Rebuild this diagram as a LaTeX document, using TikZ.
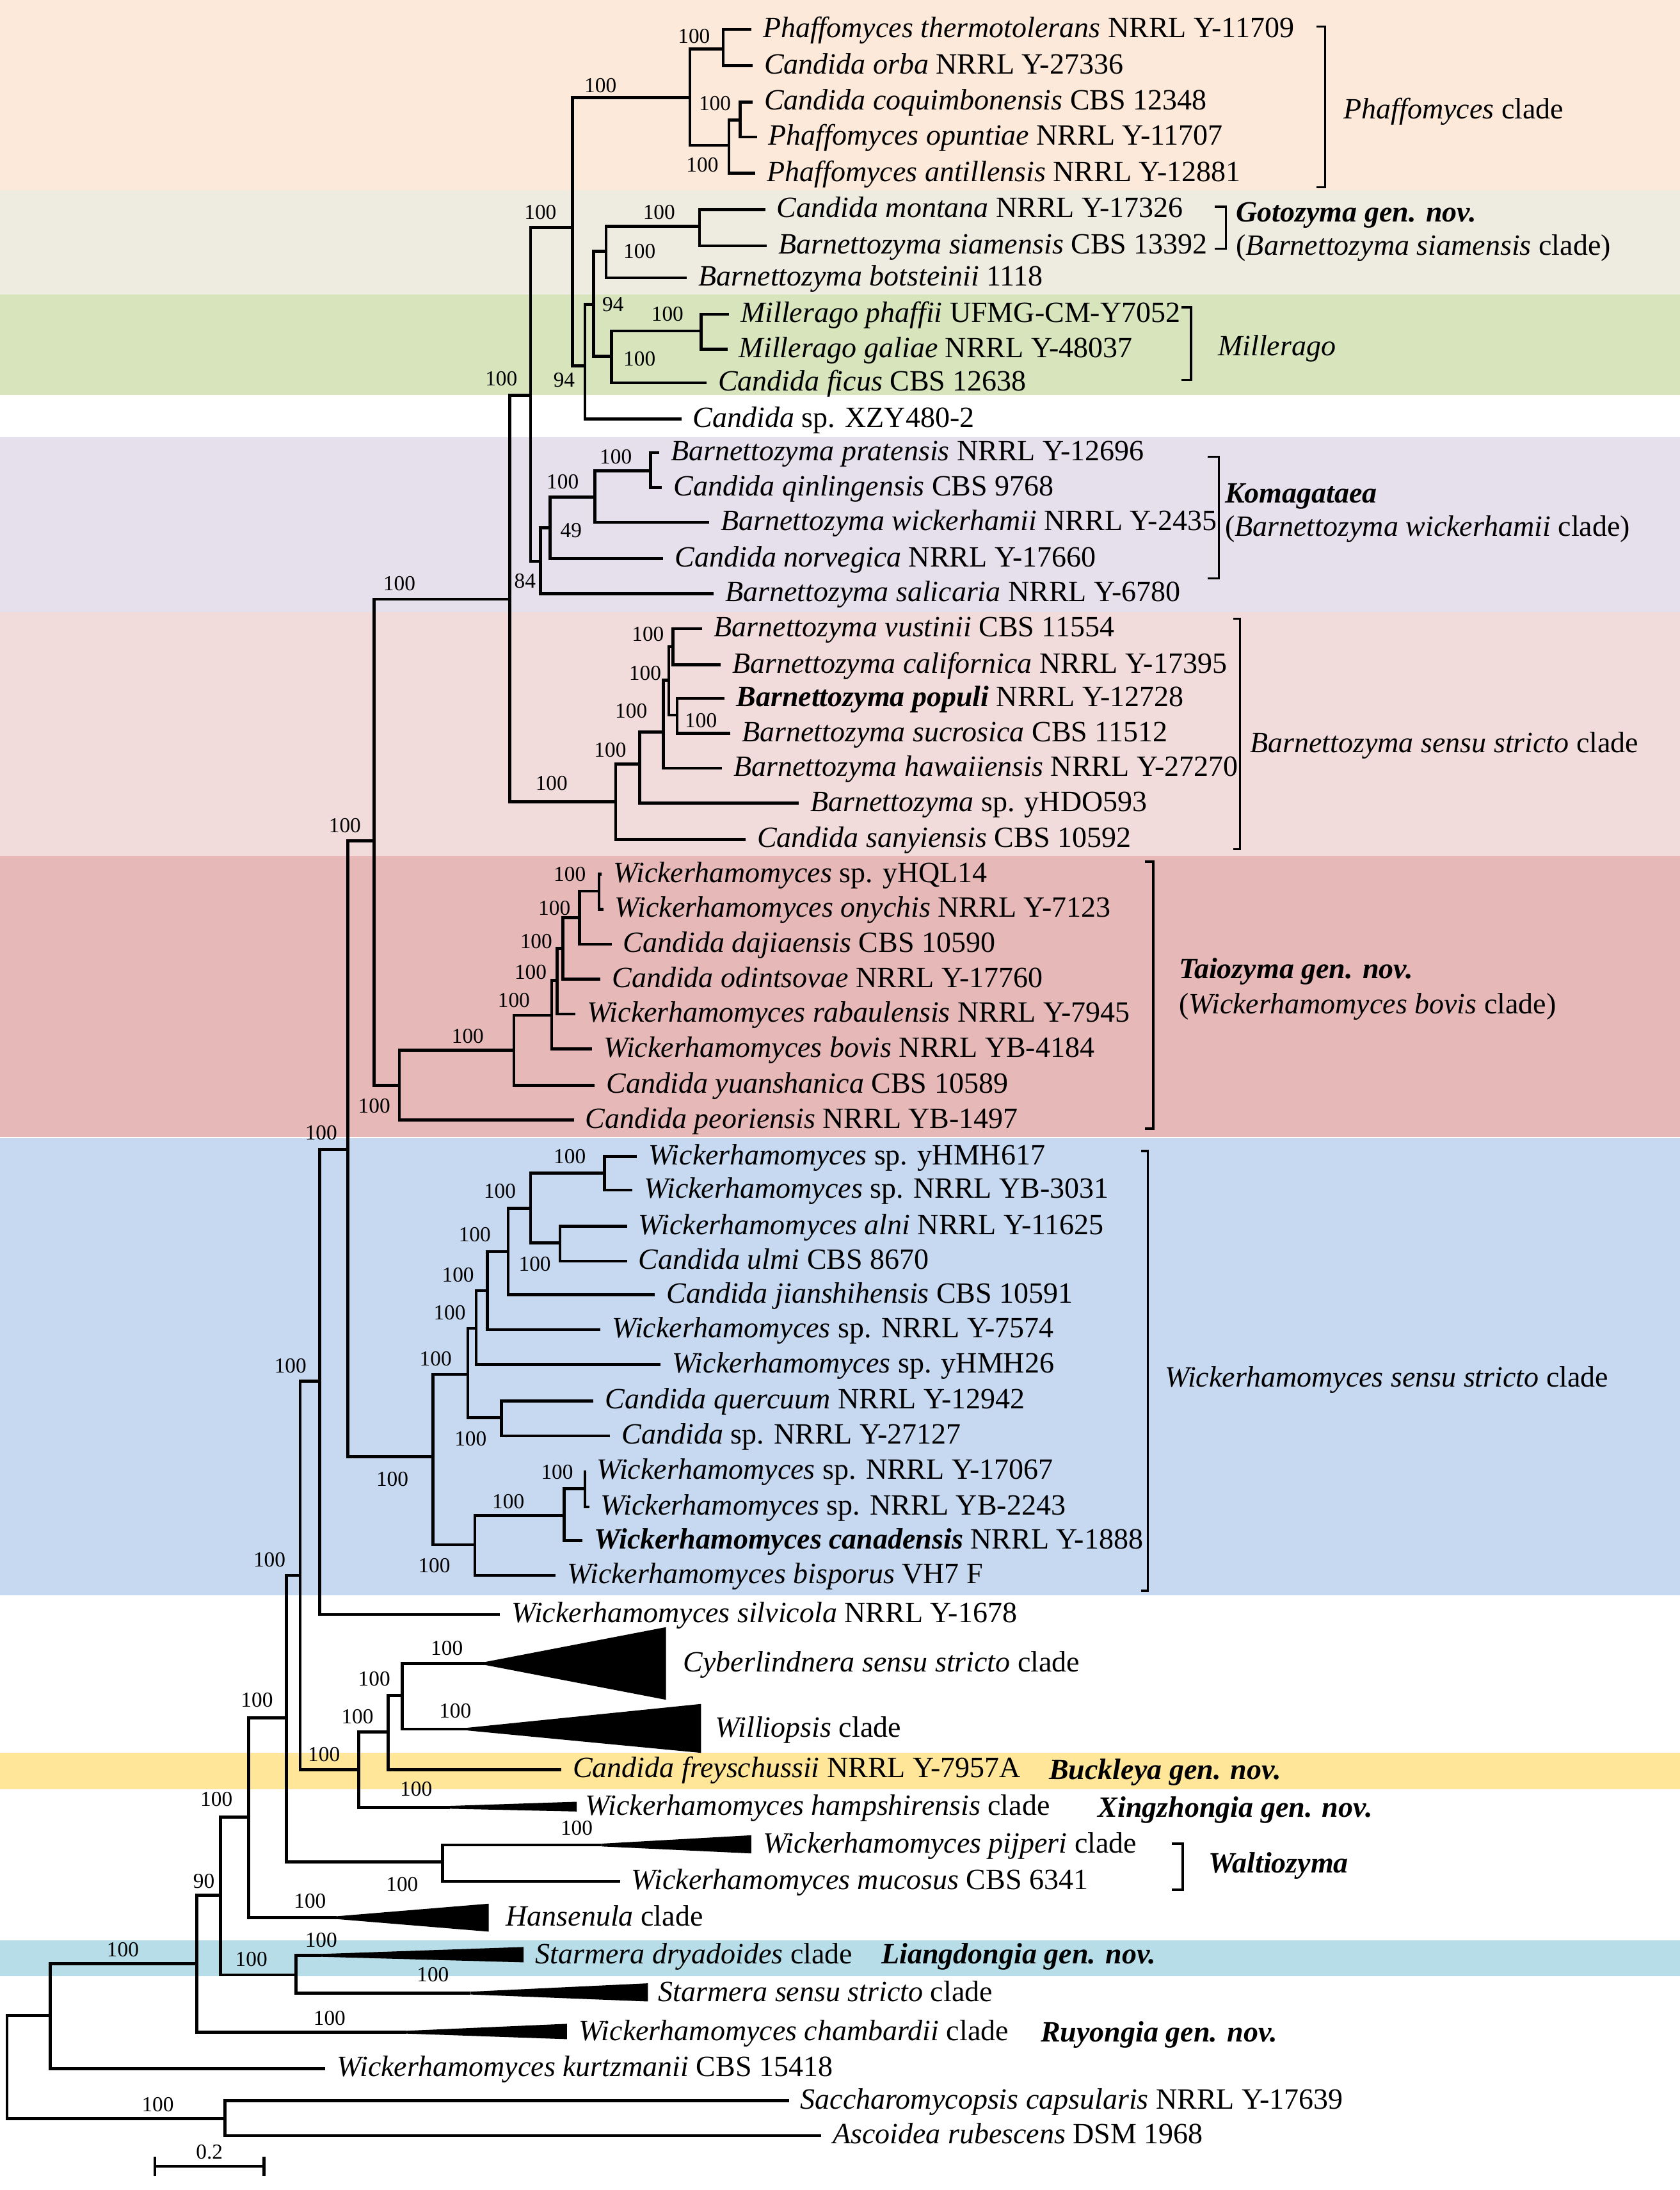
\documentclass[tikz,border=0pt]{standalone}
\usepackage{fontspec}
\setmainfont{Liberation Serif}
\usepackage{tikz}
\definecolor{phafbg}{HTML}{FDE9D9}
\definecolor{gotobg}{HTML}{EEECE1}
\definecolor{millbg}{HTML}{D7E4BC}
\definecolor{komabg}{HTML}{E5E0EC}
\definecolor{barnbg}{HTML}{F2DCDB}
\definecolor{taiobg}{HTML}{E6B9B8}
\definecolor{wickbg}{HTML}{C6D9F1}
\definecolor{buckbg}{HTML}{FFE699}
\definecolor{liangbg}{HTML}{B7DEE8}
\tikzstyle{branch}=[line width=1.2pt]
\tikzstyle{bracket}=[line width=0.9pt]
\tikzstyle{leaf}=[anchor=west, inner xsep=0.16cm, inner ysep=0pt, text height=6.6pt, text depth=0pt, font=\fontsize{12}{14}\selectfont]
\tikzstyle{cladename}=[leaf, inner xsep=0pt]
\tikzstyle{boot}=[inner sep=0pt, font=\fontsize{8.7}{10}\selectfont]

\begin{document}
\begin{tikzpicture}[x=0.02cm, y=-0.02cm]
        \useasboundingbox (0,0) rectangle (1203,1568);
        \fill[phafbg] (0,0) rectangle (1203,136);
        \fill[gotobg] (0,136) rectangle (1203,211);
        \fill[millbg] (0,211) rectangle (1203,283);
        \fill[komabg] (0,313) rectangle (1203,438);
        \fill[barnbg] (0,438) rectangle (1203,613);
        \fill[taiobg] (0,613) rectangle (1203,814);
        \fill[wickbg] (0,815) rectangle (1203,1142);
        \fill[buckbg] (0,1255) rectangle (1203,1281);
        \fill[liangbg] (0,1389) rectangle (1203,1415);

        \node[leaf] (thermo) at (538,21) {\textit{Phaffomyces thermotolerans} NRRL Y-11709};
        \node[leaf] (orba) at (539,47) {\textit{Candida orba} NRRL Y-27336};
        \node[leaf] (coquim) at (539,73) {\textit{Candida coquimbonensis} CBS 12348};
        \node[leaf] (opunt) at (542,98) {\textit{Phaffomyces opuntiae} NRRL Y-11707};
        \node[leaf] (antill) at (541,124) {\textit{Phaffomyces antillensis} NRRL Y-12881};
        \node[leaf] (montana) at (548,150) {\textit{Candida montana} NRRL Y-17326};
        \node[leaf] (siam) at (549,176) {\textit{Barnettozyma siamensis} CBS 13392};
        \node[leaf] (botst) at (492,199) {\textit{Barnettozyma botsteinii} 1118};
        \node[leaf] (phaffii) at (522,225) {\textit{Millerago phaffii} UFMG-CM-Y7052};
        \node[leaf] (galiae) at (521,250) {\textit{Millerago galiae} NRRL Y-48037};
        \node[leaf] (ficus) at (506,274) {\textit{Candida ficus} CBS 12638};
        \node[leaf] (xzy) at (488,300) {\textit{Candida} sp. XZY480-2};
        \node[leaf] (prat) at (472,324) {\textit{Barnettozyma pratensis} NRRL Y-12696};
        \node[leaf] (qinl) at (474,349) {\textit{Candida qinlingensis} CBS 9768};
        \node[leaf] (wickii) at (508,374) {\textit{Barnettozyma wickerhamii} NRRL Y-2435};
        \node[leaf] (norv) at (475,400) {\textit{Candida norvegica} NRRL Y-17660};
        \node[leaf] (salic) at (511,425) {\textit{Barnettozyma salicaria} NRRL Y-6780};
        \node[leaf] (vust) at (503,450) {\textit{Barnettozyma vustinii} CBS 11554};
        \node[leaf] (calif) at (516,476) {\textit{Barnettozyma californica} NRRL Y-17395};
        \node[leaf] (populi) at (519,500) {\textbf{\textit{Barnettozyma populi}} NRRL Y-12728};
        \node[leaf] (sucro) at (523,525) {\textit{Barnettozyma sucrosica} CBS 11512};
        \node[leaf] (hawaii) at (517,550) {\textit{Barnettozyma hawaiiensis} NRRL Y-27270};
        \node[leaf] (yhdo) at (572,575) {\textit{Barnettozyma} sp. yHDO593};
        \node[leaf] (sany) at (534,601) {\textit{Candida sanyiensis} CBS 10592};
        \node[leaf] (yhql) at (431,626) {\textit{Wickerhamomyces} sp. yHQL14};
        \node[leaf] (onych) at (432,651) {\textit{Wickerhamomyces onychis} NRRL Y-7123};
        \node[leaf] (dajia) at (438,676) {\textit{Candida dajiaensis} CBS 10590};
        \node[leaf] (odint) at (430,701) {\textit{Candida odintsovae} NRRL Y-17760};
        \node[leaf] (rabaul) at (412,726) {\textit{Wickerhamomyces rabaulensis} NRRL Y-7945};
        \node[leaf] (bovis) at (424,751) {\textit{Wickerhamomyces bovis} NRRL YB-4184};
        \node[leaf] (yuansh) at (426,777) {\textit{Candida yuanshanica} CBS 10589};
        \node[leaf] (peori) at (411,802) {\textit{Candida peoriensis} NRRL YB-1497};
        \node[leaf] (yhmha) at (456,828) {\textit{Wickerhamomyces} sp. yHMH617};
        \node[leaf] (ybthree) at (453,852) {\textit{Wickerhamomyces} sp. NRRL YB-3031};
        \node[leaf] (alni) at (449,878) {\textit{Wickerhamomyces alni} NRRL Y-11625};
        \node[leaf] (ulmi) at (449,903) {\textit{Candida ulmi} CBS 8670};
        \node[leaf] (jiansh) at (469,927) {\textit{Candida jianshihensis} CBS 10591};
        \node[leaf] (yseven) at (430,952) {\textit{Wickerhamomyces} sp. NRRL Y-7574};
        \node[leaf] (yhmhb) at (473,977) {\textit{Wickerhamomyces} sp. yHMH26};
        \node[leaf] (querc) at (425,1003) {\textit{Candida quercuum} NRRL Y-12942};
        \node[leaf] (ytwenty) at (437,1028) {\textit{Candida} sp. NRRL Y-27127};
        \node[leaf] (yseventeen) at (419,1053) {\textit{Wickerhamomyces} sp. NRRL Y-17067};
        \node[leaf] (ybtwo) at (422,1079) {\textit{Wickerhamomyces} sp. NRRL YB-2243};
        \node[leaf] (canad) at (417,1103) {\textbf{\textit{Wickerhamomyces canadensis}} NRRL Y-1888};
        \node[leaf] (bispor) at (398,1128) {\textit{Wickerhamomyces bisporus} VH7 F};
        \node[leaf] (silvic) at (358,1156) {\textit{Wickerhamomyces silvicola} NRRL Y-1678};
        \node[leaf] (cyber) at (481,1191) {\textit{Cyberlindnera sensu stricto} clade};
        \node[leaf] (willi) at (504,1238) {\textit{Williopsis} clade};
        \node[leaf] (freysch) at (402,1267) {\textit{Candida freyschussii} NRRL Y-7957A};
        \node[leaf] (hampsh) at (411,1294) {\textit{Wickerhamomyces hampshirensis} clade};
        \node[leaf] (pijperi) at (538,1321) {\textit{Wickerhamomyces pijperi} clade};
        \node[leaf] (mucos) at (444,1347) {\textit{Wickerhamomyces mucosus} CBS 6341};
        \node[leaf] (hansen) at (354,1373) {\textit{Hansenula} clade};
        \node[leaf] (dryad) at (375,1400) {\textit{Starmera dryadoides} clade};
        \node[leaf] (starss) at (463,1427) {\textit{Starmera sensu stricto} clade};
        \node[leaf] (chamb) at (406,1455) {\textit{Wickerhamomyces chambardii} clade};
        \node[leaf] (kurtz) at (233,1481) {\textit{Wickerhamomyces kurtzmanii} CBS 15418};
        \node[leaf] (saccha) at (565,1504) {\textit{Saccharomycopsis capsularis} NRRL Y-17639};
        \node[leaf] (ascoid) at (588,1529) {\textit{Ascoidea rubescens} DSM 1968};

        \coordinate (pA) at (518,35);
        \coordinate (pB) at (530,86);
        \coordinate (pC) at (522,104);
        \coordinate (phaf) at (494,70);
        \coordinate (goto) at (501,162);
        \coordinate (gb) at (434,180);
        \coordinate (mill) at (502,237);
        \coordinate (mf) at (438,255);
        \coordinate (gm) at (425,218);
        \coordinate (gx) at (419,262);
        \coordinate (top1) at (410,163);
        \coordinate (koma1) at (466,337);
        \coordinate (koma2) at (426,356);
        \coordinate (koma3) at (394,378);
        \coordinate (koma4) at (387,402);
        \coordinate (top2) at (380,283);
        \coordinate (barn1) at (482,463);
        \coordinate (barn2) at (485,512);
        \coordinate (barn3) at (479,487);
        \coordinate (barn4) at (475,524);
        \coordinate (barn5) at (458,547);
        \coordinate (barn6) at (441,574);
        \coordinate (top3) at (365,429);
        \coordinate (taio1) at (429,638);
        \coordinate (taio2) at (415,657);
        \coordinate (taio3) at (403,679);
        \coordinate (taio4) at (399,702);
        \coordinate (taio5) at (395,727);
        \coordinate (taio6) at (368,752);
        \coordinate (taio7) at (286,777);
        \coordinate (top4) at (268,602);
        \coordinate (wick1) at (433,840);
        \coordinate (wick2) at (401,890);
        \coordinate (wick3) at (380,865);
        \coordinate (wick4) at (364,896);
        \coordinate (wick5) at (349,924);
        \coordinate (wick6) at (341,951);
        \coordinate (wick7) at (359,1015);
        \coordinate (wick8) at (335,984);
        \coordinate (wick9) at (419,1066);
        \coordinate (wick10) at (404,1085);
        \coordinate (wick11) at (340,1106);
        \coordinate (wick12) at (310,1043);
        \coordinate (top5) at (249,823);
        \coordinate (top6) at (229,989);
        \coordinate (cyb1) at (288,1214);
        \coordinate (cyb2) at (278,1240);
        \coordinate (cyb3) at (257,1267);
        \coordinate (top7) at (215,1128);
        \coordinate (walt) at (317,1333);
        \coordinate (top8) at (205,1230);
        \coordinate (top9) at (178,1301);
        \coordinate (star) at (212,1414);
        \coordinate (top10) at (158,1357);
        \coordinate (top11) at (141,1406);
        \coordinate (top12) at (36,1443);
        \coordinate (outg) at (161,1517);
        \coordinate (root) at (5,1480);
        \coordinate (cyberA) at (347,1191);
        \coordinate (williA) at (335,1238);
        \coordinate (hampshA) at (322,1294);
        \coordinate (pijperiA) at (431,1321);
        \coordinate (hansenA) at (241,1373);
        \coordinate (dryadA) at (230,1400);
        \coordinate (starssA) at (337,1427);
        \coordinate (chambA) at (291,1455);

        \fill (347,1190) -- (477,1165) -- (477,1217) -- (347,1192) -- cycle;
        \fill (335,1237) -- (502,1220) -- (502,1255) -- (335,1239) -- cycle;
        \fill (322,1293) -- (413,1290) -- (413,1297) -- (322,1295) -- cycle;
        \fill (431,1320) -- (538,1314) -- (538,1327) -- (431,1322) -- cycle;
        \fill (241,1372) -- (350,1363) -- (350,1383) -- (241,1374) -- cycle;
        \fill (230,1399) -- (375,1394) -- (375,1405) -- (230,1401) -- cycle;
        \fill (337,1426) -- (464,1420) -- (464,1433) -- (337,1428) -- cycle;
        \fill (291,1454) -- (406,1449) -- (406,1460) -- (291,1456) -- cycle;

        \draw[branch] (thermo.west) -| (pA) |- (orba.west);
        \draw[branch] (coquim.west) -| (pB) |- (opunt.west);
        \draw[branch] (pB) -| (pC) |- (antill.west);
        \draw[branch] (pA) -| (phaf) |- (pC);
        \draw[branch] (montana.west) -| (goto) |- (siam.west);
        \draw[branch] (goto) -| (gb) |- (botst.west);
        \draw[branch] (phaffii.west) -| (mill) |- (galiae.west);
        \draw[branch] (mill) -| (mf) |- (ficus.west);
        \draw[branch] (gb) -| (gm) |- (mf);
        \draw[branch] (gm) -| (gx) |- (xzy.west);
        \draw[branch] (phaf) -| (top1) |- (gx);
        \draw[branch] (prat.west) -| (koma1) |- (qinl.west);
        \draw[branch] (koma1) -| (koma2) |- (wickii.west);
        \draw[branch] (koma2) -| (koma3) |- (norv.west);
        \draw[branch] (koma3) -| (koma4) |- (salic.west);
        \draw[branch] (top1) -| (top2) |- (koma4);
        \draw[branch] (vust.west) -| (barn1) |- (calif.west);
        \draw[branch] (populi.west) -| (barn2) |- (sucro.west);
        \draw[branch] (barn1) -| (barn3) |- (barn2);
        \draw[branch] (barn3) -| (barn4) |- (hawaii.west);
        \draw[branch] (barn4) -| (barn5) |- (yhdo.west);
        \draw[branch] (barn5) -| (barn6) |- (sany.west);
        \draw[branch] (top2) -| (top3) |- (barn6);
        \draw[branch] (yhql.west) -| (taio1) |- (onych.west);
        \draw[branch] (taio1) -| (taio2) |- (dajia.west);
        \draw[branch] (taio2) -| (taio3) |- (odint.west);
        \draw[branch] (taio3) -| (taio4) |- (rabaul.west);
        \draw[branch] (taio4) -| (taio5) |- (bovis.west);
        \draw[branch] (taio5) -| (taio6) |- (yuansh.west);
        \draw[branch] (taio6) -| (taio7) |- (peori.west);
        \draw[branch] (top3) -| (top4) |- (taio7);
        \draw[branch] (yhmha.west) -| (wick1) |- (ybthree.west);
        \draw[branch] (alni.west) -| (wick2) |- (ulmi.west);
        \draw[branch] (wick1) -| (wick3) |- (wick2);
        \draw[branch] (wick3) -| (wick4) |- (jiansh.west);
        \draw[branch] (wick4) -| (wick5) |- (yseven.west);
        \draw[branch] (wick5) -| (wick6) |- (yhmhb.west);
        \draw[branch] (querc.west) -| (wick7) |- (ytwenty.west);
        \draw[branch] (wick6) -| (wick8) |- (wick7);
        \draw[branch] (yseventeen.west) -| (wick9) |- (ybtwo.west);
        \draw[branch] (wick9) -| (wick10) |- (canad.west);
        \draw[branch] (wick10) -| (wick11) |- (bispor.west);
        \draw[branch] (wick8) -| (wick12) |- (wick11);
        \draw[branch] (top4) -| (top5) |- (wick12);
        \draw[branch] (top5) -| (top6) |- (silvic.west);
        \draw[branch] (cyberA) -| (cyb1) |- (williA);
        \draw[branch] (cyb1) -| (cyb2) |- (freysch.west);
        \draw[branch] (cyb2) -| (cyb3) |- (hampshA);
        \draw[branch] (top6) -| (top7) |- (cyb3);
        \draw[branch] (pijperiA) -| (walt) |- (mucos.west);
        \draw[branch] (top7) -| (top8) |- (walt);
        \draw[branch] (top8) -| (top9) |- (hansenA);
        \draw[branch] (dryadA) -| (star) |- (starssA);
        \draw[branch] (top9) -| (top10) |- (star);
        \draw[branch] (top10) -| (top11) |- (chambA);
        \draw[branch] (top11) -| (top12) |- (kurtz.west);
        \draw[branch] (saccha.west) -| (outg) |- (ascoid.west);
        \draw[branch] (top12) -| (root) |- (outg);

        \node[boot] (b1) at (497,26) {100};
        \node[boot] (b2) at (430,61) {100};
        \node[boot] (b3) at (512,74) {100};
        \node[boot] (b4) at (503,118) {100};
        \node[boot] (b5) at (387,152) {100};
        \node[boot] (b6) at (472,152) {100};
        \node[boot] (b7) at (458,180) {100};
        \node[boot] (b8) at (439,218) {94};
        \node[boot] (b9) at (478,225) {100};
        \node[boot] (b10) at (458,257) {100};
        \node[boot] (b11) at (359,271) {100};
        \node[boot] (b12) at (404,272) {94};
        \node[boot] (b13) at (441,327) {100};
        \node[boot] (b14) at (403,345) {100};
        \node[boot] (b15) at (409,380) {49};
        \node[boot] (b16) at (376,416) {84};
        \node[boot] (b17) at (286,418) {100};
        \node[boot] (b18) at (464,454) {100};
        \node[boot] (b19) at (462,482) {100};
        \node[boot] (b20) at (452,509) {100};
        \node[boot] (b21) at (502,516) {100};
        \node[boot] (b22) at (437,537) {100};
        \node[boot] (b23) at (395,561) {100};
        \node[boot] (b24) at (247,591) {100};
        \node[boot] (b25) at (408,626) {100};
        \node[boot] (b26) at (397,650) {100};
        \node[boot] (b27) at (384,674) {100};
        \node[boot] (b28) at (380,696) {100};
        \node[boot] (b29) at (368,716) {100};
        \node[boot] (b30) at (335,742) {100};
        \node[boot] (b31) at (268,792) {100};
        \node[boot] (b32) at (230,811) {100};
        \node[boot] (b33) at (408,828) {100};
        \node[boot] (b34) at (358,853) {100};
        \node[boot] (b35) at (340,884) {100};
        \node[boot] (b36) at (383,905) {100};
        \node[boot] (b37) at (328,913) {100};
        \node[boot] (b38) at (322,940) {100};
        \node[boot] (b39) at (312,973) {100};
        \node[boot] (b40) at (208,978) {100};
        \node[boot] (b41) at (337,1030) {100};
        \node[boot] (b42) at (399,1054) {100};
        \node[boot] (b43) at (281,1059) {100};
        \node[boot] (b44) at (364,1075) {100};
        \node[boot] (b45) at (193,1117) {100};
        \node[boot] (b46) at (311,1121) {100};
        \node[boot] (b47) at (320,1180) {100};
        \node[boot] (b48) at (268,1202) {100};
        \node[boot] (b49) at (184,1217) {100};
        \node[boot] (b50) at (326,1225) {100};
        \node[boot] (b51) at (256,1229) {100};
        \node[boot] (b52) at (232,1256) {100};
        \node[boot] (b53) at (298,1281) {100};
        \node[boot] (b54) at (155,1288) {100};
        \node[boot] (b55) at (413,1309) {100};
        \node[boot] (b56) at (288,1349) {100};
        \node[boot] (b57) at (146,1347) {90};
        \node[boot] (b58) at (222,1361) {100};
        \node[boot] (b59) at (230,1389) {100};
        \node[boot] (b60) at (88,1396) {100};
        \node[boot] (b61) at (180,1403) {100};
        \node[boot] (b62) at (310,1414) {100};
        \node[boot] (b63) at (236,1445) {100};
        \node[boot] (b64) at (113,1507) {100};

        \draw[bracket] (943,19) -| (949,134) -- (943,134);
        \node[cladename] (phafc) at (962,79) {\textit{Phaffomyces} clade};
        \draw[bracket] (870,148) -| (878,178) -- (870,178);
        \node[cladename] (gotoc) at (885,153) {\textbf{\textit{Gotozyma gen. nov.}}};
        \node[cladename] (gotoa) at (885,177) {(\textit{Barnettozyma siamensis} clade)};
        \draw[bracket] (846,220) -| (853,272) -- (846,272);
        \node[cladename] (millc) at (872,249) {\textit{Millerago}};
        \draw[bracket] (865,327) -| (873,414) -- (865,414);
        \node[cladename] (komac) at (877,354) {\textbf{\textit{Komagataea}}};
        \node[cladename] (komaa) at (877,378) {(\textit{Barnettozyma wickerhamii} clade)};
        \draw[bracket] (883,443) -| (888,608) -- (883,608);
        \node[cladename] (barnc) at (895,533) {\textit{Barnettozyma sensu stricto} clade};
        \draw[bracket] (820,617) -| (826,808) -- (820,808);
        \node[cladename] (taioc) at (844,695) {\textbf{\textit{Taiozyma gen. nov.}}};
        \node[cladename] (taioa) at (844,720) {(\textit{Wickerhamomyces bovis} clade)};
        \draw[bracket] (817,824) -| (822,1139) -- (817,1139);
        \node[cladename] (wickc) at (834,987) {\textit{Wickerhamomyces sensu stricto} clade};
        \draw[bracket] (839,1320) -| (847,1353) -- (839,1353);
        \node[cladename] (waltc) at (865,1335) {\textbf{\textit{Waltiozyma}}};
        \node[cladename] (buckc) at (751,1268) {\textbf{\textit{Buckleya gen. nov.}}};
        \node[cladename] (xingc) at (786,1295) {\textbf{\textit{Xingzhongia gen. nov.}}};
        \node[cladename] (liangc) at (631,1400) {\textbf{\textit{Liangdongia gen. nov.}}};
        \node[cladename] (ruyoc) at (745,1456) {\textbf{\textit{Ruyongia gen. nov.}}};

        \coordinate (sbl) at (111,1551);
        \coordinate (sbr) at (189,1551);
        \draw[branch] (sbl) -- (sbr);
        \draw[branch] (sbl) ++(0,-7) -- ++(0,14);
        \draw[branch] (sbr) ++(0,-7) -- ++(0,14);
        \node[boot] (scale) at (150,1541) {0.2};
    \end{tikzpicture}
\end{document}
